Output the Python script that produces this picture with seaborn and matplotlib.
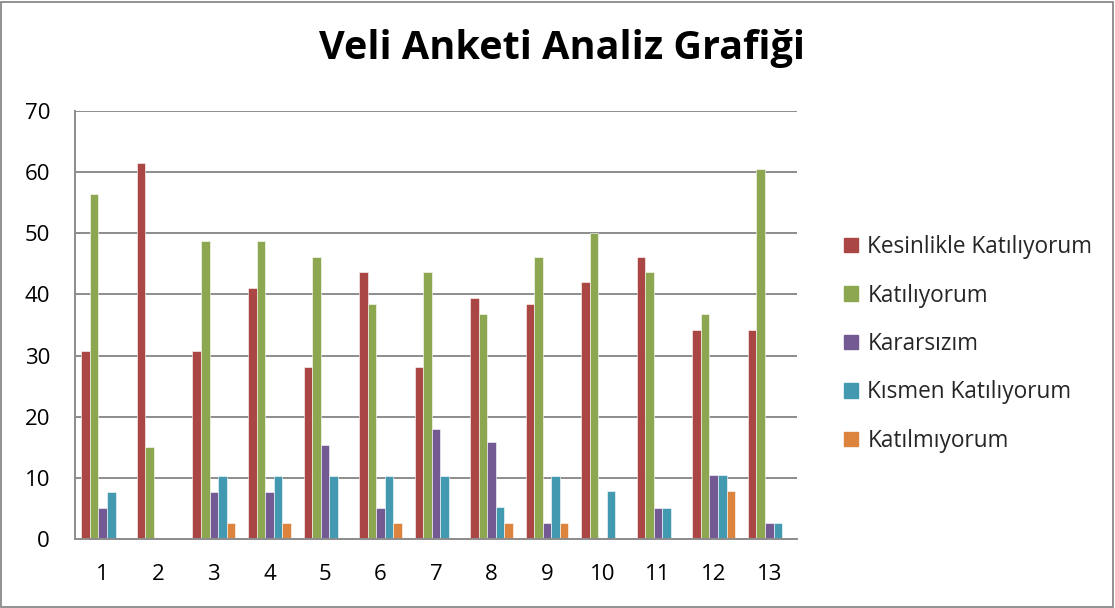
import numpy as np
import pandas as pd
import matplotlib
matplotlib.use("Agg")
import matplotlib.pyplot as plt
from matplotlib.patches import Rectangle
import seaborn as sns

# survey data (percent per question)
sorular = [str(i) for i in range(1, 14)]
kesinlikle = [30.77, 61.54, 30.77, 41.03, 28.21, 43.59, 28.21, 39.47, 38.46, 42.11, 46.15, 34.21, 34.21]
katiliyorum = [56.41, 15.0, 48.72, 48.72, 46.15, 38.46, 43.59, 36.84, 46.15, 50.0, 43.59, 36.84, 60.53]
kararsizim = [5.13, 0, 7.69, 7.69, 15.38, 5.13, 17.95, 15.79, 2.56, 0, 5.13, 10.53, 2.63]
kismen = [7.69, 0, 10.26, 10.26, 10.26, 10.26, 10.26, 5.26, 10.26, 7.89, 5.13, 10.53, 2.63]
katilmiyorum = [0, 0, 2.56, 2.56, 0, 2.56, 0, 2.63, 2.56, 0, 0, 7.89, 0]

cevaplar = ["Kesinlikle Katılıyorum", "Katılıyorum", "Kararsızım",
            "Kısmen Katılıyorum", "Katılmıyorum"]
renkler = ["#AA4745", "#8CA74F", "#735A92", "#4299B0", "#DC843E"]

rows = []
for cevap, vals in zip(cevaplar, [kesinlikle, katiliyorum, kararsizim, kismen, katilmiyorum]):
    for s, v in zip(sorular, vals):
        rows.append((s, cevap, v))
df = pd.DataFrame(rows, columns=["soru", "cevap", "yuzde"])

sns.set_style("white")
plt.rcParams['font.family'] = ['Open Sans', 'DejaVu Sans']

fig = plt.figure(figsize=(11.15, 6.08), dpi=100)
ax = fig.add_axes([75 / 1115, 69 / 608, 722 / 1115, 428 / 608])

sns.barplot(data=df, x="soru", y="yuzde", hue="cevap", hue_order=cevaplar,
            order=sorular, palette=renkler, width=0.77, saturation=1,
            edgecolor="white", linewidth=0.4, ax=ax)

gri = "#8c8c8c"
ax.set_ylim(0, 70)
ax.set_xlim(-0.5, 12.5)
ax.set_yticks(np.arange(0, 71, 10))
ax.yaxis.grid(True, color=gri, linewidth=1.4)
ax.set_axisbelow(True)
ax.set_xlabel("")
ax.set_ylabel("")
for side in ["top", "right"]:
    ax.spines[side].set_visible(False)
for side in ["left", "bottom"]:
    ax.spines[side].set_color(gri)
    ax.spines[side].set_linewidth(1.4)

ax.tick_params(axis="y", length=6, width=1.4, color=gri, labelsize=16, pad=12, labelcolor="black")
ax.tick_params(axis="x", which="major", length=0, labelsize=16, pad=18, labelcolor="black")
ax.set_xticks(np.arange(-0.5, 13, 1), minor=True)
ax.tick_params(axis="x", which="minor", length=6, width=1.4, color=gri)

ax.legend_.remove()
handles = [Rectangle((0, 0), 1, 1, color=c) for c in renkler]
fig.legend(handles, cevaplar, loc="center left", bbox_to_anchor=(824 / 1115, 1 - 344 / 608),
           frameon=False, fontsize=16.3, handlelength=0.62, handleheight=0.62,
           handletextpad=0.4, labelspacing=1.08)

fig.text(562 / 1115, 1 - 59 / 608, "Veli Anketi Analiz Grafiği", ha="center", va="baseline",
         fontsize=28.5, fontweight="bold", color="black")

fig.add_artist(Rectangle((1 / 1115, 1 / 608), 1112 / 1115, 605 / 608, transform=fig.transFigure,
                         fill=False, edgecolor="#7f7f7f", linewidth=1.2))

fig.savefig("out.png", dpi=100)
